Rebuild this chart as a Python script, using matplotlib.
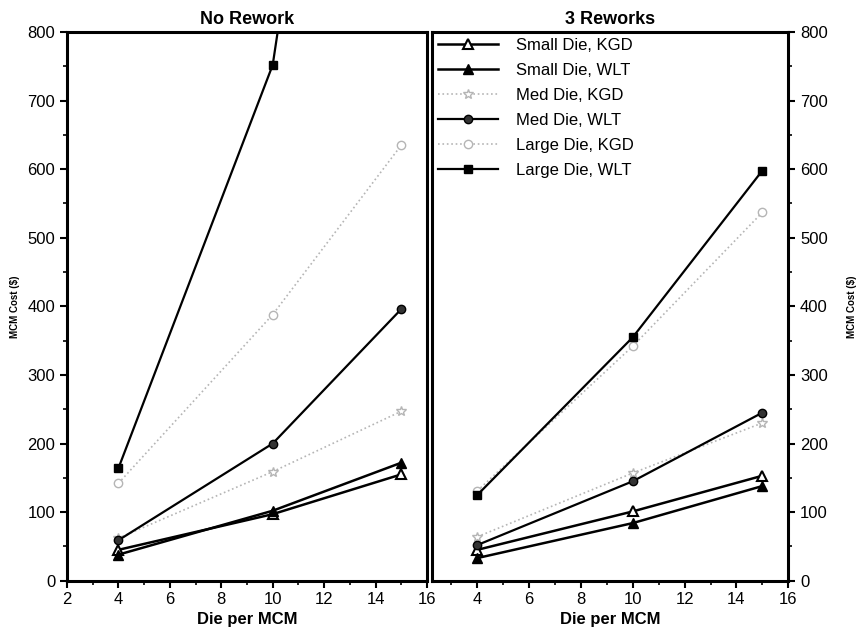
import matplotlib
matplotlib.use("Agg")
import matplotlib.pyplot as plt
from matplotlib.ticker import MultipleLocator

plt.rcParams['font.family'] = ['Liberation Sans', 'DejaVu Sans']

# die per MCM
die = [4, 10, 15]

# MCM cost ($), no rework
nr_small_kgd = [45, 97, 155]
nr_small_wlt = [38, 102, 172]
nr_med_kgd = [62, 159, 247]
nr_med_wlt = [59, 200, 396]
nr_large_kgd = [142, 388, 635]
nr_large_wlt = [164, 752, 2000]

# MCM cost ($), 3 reworks
rw_small_kgd = [45, 101, 153]
rw_small_wlt = [33, 84, 138]
rw_med_kgd = [64, 157, 230]
rw_med_wlt = [52, 145, 245]
rw_large_kgd = [131, 342, 537]
rw_large_wlt = [125, 355, 598]

labels = ["Small Die, KGD", "Small Die, WLT", "Med Die, KGD",
          "Med Die, WLT", "Large Die, KGD", "Large Die, WLT"]

grey = '#b5b5b5'
styles = [
    dict(color='black', lw=1.8, ls='-', marker='^', ms=6.5, mfc='white', mec='black', mew=1.5),
    dict(color='black', lw=1.8, ls='-', marker='^', ms=6.5, mfc='black', mec='black'),
    dict(color=grey, lw=1.2, ls=':', marker='*', ms=7, mfc='white', mec=grey),
    dict(color='black', lw=1.6, ls='-', marker='o', ms=6, mfc='#333333', mec='black'),
    dict(color=grey, lw=1.2, ls=':', marker='o', ms=6, mfc='white', mec=grey),
    dict(color='black', lw=1.6, ls='-', marker='s', ms=6, mfc='black', mec='black'),
]

fig = plt.figure(figsize=(8.6, 6.43), dpi=100)
ax1 = fig.add_axes([0.0779, 0.0969, 0.4186, 0.8533])
ax2 = fig.add_axes([0.5023, 0.0969, 0.4143, 0.8533])

series_l = [nr_small_kgd, nr_small_wlt, nr_med_kgd, nr_med_wlt, nr_large_kgd, nr_large_wlt]
series_r = [rw_small_kgd, rw_small_wlt, rw_med_kgd, rw_med_wlt, rw_large_kgd, rw_large_wlt]

for vals, st in zip(series_l, styles):
    ax1.plot(die, vals, **st)
lines = []
for vals, lab, st in zip(series_r, labels, styles):
    ln, = ax2.plot(die, vals, label=lab, **st)
    lines.append(ln)

for ax in (ax1, ax2):
    ax.set_ylim(0, 800)
    ax.yaxis.set_major_locator(MultipleLocator(100))
    ax.yaxis.set_minor_locator(MultipleLocator(50))
    ax.xaxis.set_major_locator(MultipleLocator(2))
    ax.xaxis.set_minor_locator(MultipleLocator(1))
    ax.tick_params(which='major', direction='out', length=5, width=1.5, labelsize=12)
    ax.tick_params(which='minor', direction='out', length=3, width=1.2)
    for sp in ax.spines.values():
        sp.set_linewidth(2.2)
    ax.set_xlabel("Die per MCM", fontsize=12, fontweight='bold', labelpad=3)

ax1.set_xlim(2, 16)
ax2.set_xlim(2.25, 16)
ax2.set_xticks([4, 6, 8, 10, 12, 14, 16])

ax1.set_title("No Rework", fontsize=13, fontweight='bold', pad=6)
ax2.set_title("3 Reworks", fontsize=13, fontweight='bold', pad=6)

ax1.set_ylabel("MCM Cost ($)", fontsize=7, fontweight='bold', labelpad=5)
ax2.yaxis.tick_right()
ax2.yaxis.set_label_position('right')
ax2.tick_params(axis='y', which='both', left=False, right=True, labelleft=False, labelright=True)
ax2.set_ylabel("MCM Cost ($)", fontsize=7, fontweight='bold', rotation=90, labelpad=14)

ax2.legend(handles=lines, loc='upper left', frameon=False, fontsize=12,
           handlelength=3.6, handletextpad=1.1, labelspacing=0.6,
           borderaxespad=0.1, borderpad=0.25, bbox_to_anchor=(0.0, 1.0))

fig.savefig("out.png", dpi=100)
